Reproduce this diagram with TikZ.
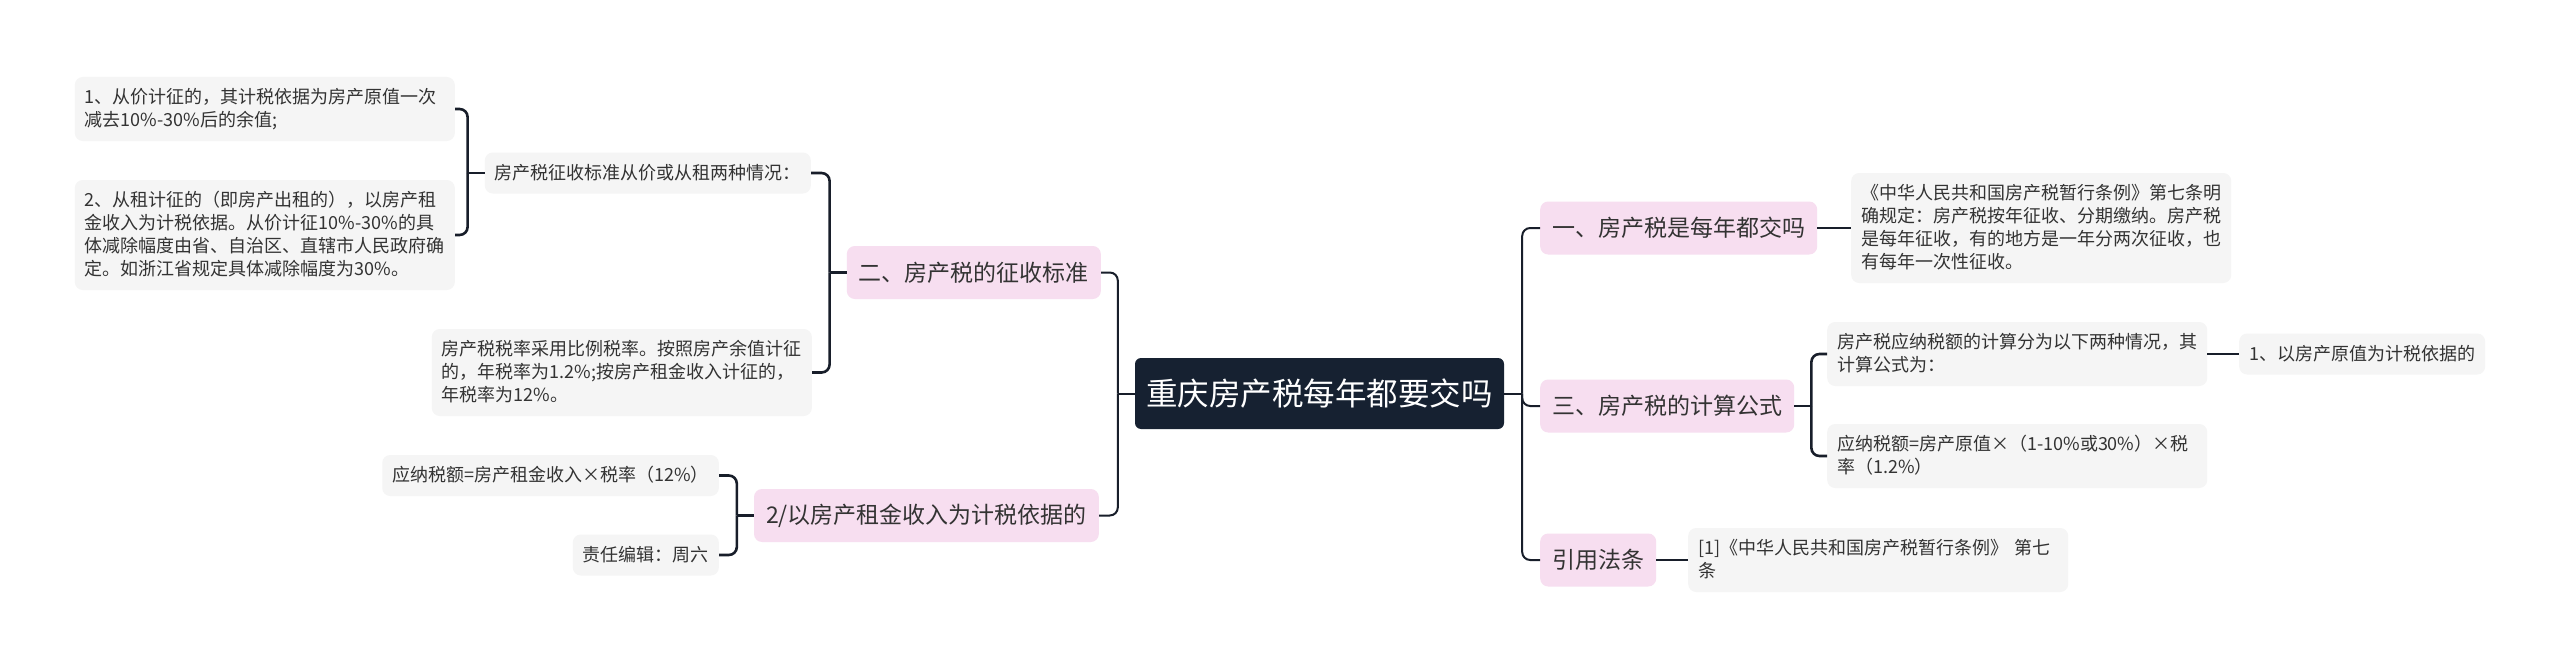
\documentclass[tikz,border=0pt]{standalone}
\usepackage{fontspec}
\setmainfont{Noto Sans CJK SC}
\usetikzlibrary{positioning,calc}
\definecolor{MapNavy}{RGB}{22,33,49}
\definecolor{MapPink}{RGB}{247,222,240}
\definecolor{SoftGray}{RGB}{245,245,245}
\definecolor{InkGray}{RGB}{51,51,51}
\definecolor{WireDark}{RGB}{24,30,42}
\newcommand{\tstrut}{\rule[-5.4pt]{0pt}{23pt}}
\tikzset{
  topic/.style={fill=MapNavy,text=white,rounded corners=6pt,inner xsep=0pt,inner ysep=0pt,
    minimum height=71pt,minimum width=369pt,font=\fontsize{31.5}{38}\selectfont},
  branch/.style={fill=MapPink,text=InkGray,rounded corners=8pt,inner xsep=12pt,inner ysep=0pt,
    minimum height=53pt,font=\fontsize{23}{28}\selectfont},
  leaf/.style={fill=SoftGray,text=InkGray,rounded corners=8pt,inner xsep=10pt,inner ysep=9pt,
    font=\fontsize{18}{23}\selectfont,execute at begin node=\noindent\tstrut,execute at end node=\tstrut},
  note/.style={leaf,text width=360pt,align=left},
}
\tikzset{wire/.style={draw=WireDark,line width=2.6pt,rounded corners=8pt}, trunk/.style={wire,line width=2pt}}

\begin{document}
\begin{tikzpicture}[x=1pt,y=-1pt]
\useasboundingbox (0,0) rectangle (2560,669);
\fill[white] (0,0) rectangle (2560,669);
\node[topic] (root) at (1319.5,393.5) {重庆房产税每年都要交吗};
\node[branch,anchor=east] (n2) at (1101,272.5) {二、房产税的征收标准};
\node[branch,anchor=east] (n6) at (1099,515.5) {2/以房产租金收入为计税依据的};
\node[leaf,anchor=east] (lmid) at (811,173) {房产税征收标准从价或从租两种情况：};
\node[note,anchor=east] (l1) at (455,109) {1、从价计征的，其计税依据为房产原值一次\\减去10\%-30\%后的余值;};
\node[note,anchor=east] (l2) at (455,235) {2、从租计征的（即房产出租的），以房产租\\金收入为计税依据。从价计征10\%-30\%的具\\体减除幅度由省、自治区、直辖市人民政府确\\定。如浙江省规定具体减除幅度为30\%。};
\node[note,anchor=east] (l3) at (812,372.5) {房产税税率采用比例税率。按照房产余值计征\\的，年税率为1.2\%;按房产租金收入计征的，\\年税率为12\%。};
\node[leaf,anchor=east] (l4) at (719,475.5) {应纳税额=房产租金收入×税率（12\%）};
\node[leaf,anchor=east] (l5) at (719,555) {责任编辑：周六};
\node[branch,anchor=west] (n1) at (1540,228) {一、房产税是每年都交吗};
\node[branch,anchor=west] (n3) at (1540,406) {三、房产税的计算公式};
\node[branch,anchor=west] (n4) at (1540,560) {引用法条};
\node[note,anchor=west] (r1) at (1851,228) {《中华人民共和国房产税暂行条例》第七条明\\确规定：房产税按年征收、分期缴纳。房产税\\是每年征收，有的地方是一年分两次征收，也\\有每年一次性征收。};
\node[note,anchor=west] (r2) at (1827,354) {房产税应纳税额的计算分为以下两种情况，其\\计算公式为：};
\node[note,anchor=west] (r3) at (1827,456) {应纳税额=房产原值×（1-10\%或30\%）×税\\率（1.2\%）};
\node[leaf,anchor=west] (r4) at (2239,354) {1、以房产原值为计税依据的};
\node[note,anchor=west] (r5) at (1688,560) {[1]《中华人民共和国房产税暂行条例》 第七\\条};
\coordinate (jl) at ([xshift=-17pt]root.west);
\coordinate (jr) at ([xshift=18pt]root.east);
\coordinate (j2) at ([xshift=-17pt]n2.west);
\coordinate (jm) at ([xshift=-17pt]lmid.west);
\coordinate (j6) at ([xshift=-17pt]n6.west);
\coordinate (j3) at ([xshift=17pt]n3.east);
\draw[trunk] (root.west) -- (jl);
\draw[trunk] (jl) |- (n2.east);
\draw[trunk] (jl) |- (n6.east);
\draw[trunk] (root.east) -- (jr);
\draw[trunk] (jr) |- (n1.west);
\draw[trunk] (jr) |- (n3.west);
\draw[trunk] (jr) |- (n4.west);
\draw[wire] (n2.west) -- (j2);
\draw[wire] (j2) |- (lmid.east);
\draw[wire] (j2) |- (l3.east);
\draw[wire] (lmid.west) -- (jm);
\draw[wire] (jm) |- (l1.east);
\draw[wire] (jm) |- (l2.east);
\draw[wire] (n6.west) -- (j6);
\draw[wire] (j6) |- (l4.east);
\draw[wire] (j6) |- (l5.east);
\draw[wire] (n3.east) -- (j3);
\draw[wire] (j3) |- (r2.west);
\draw[wire] (j3) |- (r3.west);
\draw[wire] (n1.east) -- (r1.west);
\draw[wire] (r2.east) -- (r4.west);
\draw[wire] (n4.east) -- (r5.west);
\end{tikzpicture}
\end{document}
